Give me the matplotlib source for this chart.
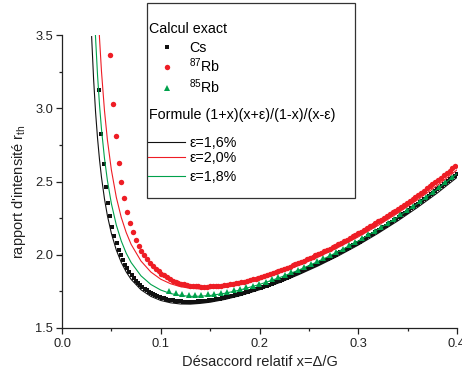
import numpy as np
import matplotlib
matplotlib.use('Agg')
import matplotlib.pyplot as plt
from matplotlib.lines import Line2D
from matplotlib.patches import Rectangle
from matplotlib.ticker import MultipleLocator, FormatStrFormatter

plt.rcParams['font.family'] = ['Liberation Sans', 'DejaVu Sans']
plt.rcParams['mathtext.fontset'] = 'custom'
plt.rcParams['mathtext.rm'] = 'Liberation Sans'
plt.rcParams['mathtext.it'] = 'Liberation Sans:italic'
plt.rcParams['mathtext.bf'] = 'Liberation Sans:bold'

# exact calculation, sampled on a regular detuning grid (x start, x step)
cs_x0, cs_dx = 0.0378, 0.00218
cs_y = [3.125, 2.822, 2.617, 2.465, 2.350, 2.264, 2.189, 2.125, 2.077, 2.034,
        1.997, 1.963, 1.933, 1.907, 1.883, 1.861, 1.842, 1.824, 1.808, 1.793,
        1.780, 1.768, 1.758, 1.748, 1.739, 1.731, 1.724, 1.717, 1.712, 1.706,
        1.702, 1.698, 1.694, 1.691, 1.688, 1.686, 1.684, 1.682, 1.681, 1.680,
        1.679, 1.679, 1.679, 1.679, 1.680, 1.680, 1.681, 1.682, 1.684, 1.685,
        1.687, 1.689, 1.691, 1.693, 1.695, 1.698, 1.701, 1.704, 1.707, 1.710,
        1.713, 1.716, 1.720, 1.723, 1.727, 1.731, 1.735, 1.739, 1.743, 1.747,
        1.751, 1.756, 1.760, 1.765, 1.770, 1.775, 1.780, 1.785, 1.790, 1.796,
        1.801, 1.807, 1.812, 1.818, 1.824, 1.830, 1.836, 1.842, 1.848, 1.855,
        1.861, 1.867, 1.874, 1.880, 1.887, 1.893, 1.900, 1.907, 1.914, 1.921,
        1.928, 1.935, 1.942, 1.949, 1.957, 1.964, 1.971, 1.979, 1.986, 1.994,
        2.001, 2.009, 2.017, 2.025, 2.033, 2.041, 2.049, 2.057, 2.065, 2.074,
        2.082, 2.090, 2.099, 2.108, 2.116, 2.125, 2.134, 2.143, 2.152, 2.161,
        2.170, 2.179, 2.189, 2.198, 2.207, 2.217, 2.226, 2.236, 2.246, 2.255,
        2.265, 2.275, 2.285, 2.295, 2.306, 2.316, 2.326, 2.337, 2.347, 2.358,
        2.368, 2.379, 2.390, 2.401, 2.412, 2.423, 2.434, 2.446, 2.457, 2.469,
        2.480, 2.492, 2.504, 2.515, 2.527, 2.539, 2.551]

rb87_x0, rb87_dx = 0.0486, 0.00289
rb87_y = [3.362, 3.029, 2.812, 2.627, 2.495, 2.385, 2.292, 2.219, 2.156, 2.101,
          2.062, 2.027, 1.997, 1.970, 1.945, 1.924, 1.905, 1.887, 1.872, 1.859,
          1.846, 1.834, 1.824, 1.815, 1.808, 1.803, 1.797, 1.793, 1.789, 1.787,
          1.785, 1.784, 1.783, 1.783, 1.783, 1.784, 1.785, 1.786, 1.788, 1.790,
          1.793, 1.796, 1.799, 1.802, 1.805, 1.809, 1.813, 1.817, 1.822, 1.827,
          1.832, 1.837, 1.843, 1.849, 1.855, 1.861, 1.868, 1.875, 1.882, 1.889,
          1.896, 1.904, 1.911, 1.919, 1.927, 1.935, 1.943, 1.952, 1.960, 1.969,
          1.977, 1.986, 1.995, 2.004, 2.014, 2.023, 2.033, 2.042, 2.052, 2.062,
          2.072, 2.082, 2.093, 2.103, 2.114, 2.125, 2.136, 2.147, 2.158, 2.170,
          2.181, 2.193, 2.204, 2.216, 2.228, 2.240, 2.252, 2.265, 2.277, 2.290,
          2.302, 2.315, 2.329, 2.342, 2.355, 2.369, 2.383, 2.397, 2.410, 2.424,
          2.438, 2.453, 2.467, 2.482, 2.497, 2.512, 2.527, 2.543, 2.558, 2.574,
          2.590, 2.606]

rb85_x0, rb85_dx = 0.1087, 0.0065
rb85_y = [1.751, 1.740, 1.732, 1.728, 1.726, 1.727, 1.730, 1.734, 1.741, 1.748,
          1.757, 1.767, 1.778, 1.790, 1.803, 1.817, 1.832, 1.848, 1.864, 1.881,
          1.899, 1.917, 1.937, 1.956, 1.977, 1.998, 2.020, 2.042, 2.066, 2.089,
          2.114, 2.139, 2.165, 2.191, 2.218, 2.246, 2.275, 2.304, 2.334, 2.364,
          2.396, 2.428, 2.461, 2.495, 2.529]

# approximate formula curves
f16_x = [0.030, 0.032, 0.034, 0.036, 0.038, 0.040, 0.043, 0.046, 0.050, 0.055,
         0.060, 0.065, 0.070, 0.080, 0.090, 0.100, 0.110, 0.120, 0.130, 0.140,
         0.150, 0.165, 0.180, 0.200, 0.220, 0.240, 0.260, 0.280, 0.300, 0.320,
         0.340, 0.360, 0.380, 0.400]
f16_y = [3.489, 3.198, 2.973, 2.794, 2.648, 2.528, 2.382, 2.266, 2.146, 2.032,
         1.948, 1.883, 1.832, 1.761, 1.716, 1.688, 1.672, 1.664, 1.663, 1.668,
         1.676, 1.695, 1.720, 1.761, 1.809, 1.865, 1.926, 1.993, 2.066, 2.146,
         2.231, 2.323, 2.421, 2.528]

f18_x = f16_x[1:]
f18_y = [3.808, 3.479, 3.224, 3.021, 2.856, 2.659, 2.506, 2.349, 2.203, 2.094,
         2.011, 1.947, 1.856, 1.797, 1.759, 1.735, 1.722, 1.716, 1.717, 1.722,
         1.737, 1.759, 1.797, 1.843, 1.896, 1.956, 2.022, 2.094, 2.173, 2.257,
         2.349, 2.447, 2.553]

f20_x = f16_x[3:]
f20_y = [3.761, 3.477, 3.250, 2.985, 2.783, 2.579, 2.392, 2.255, 2.152, 2.071,
         1.957, 1.882, 1.833, 1.802, 1.782, 1.771, 1.767, 1.769, 1.780, 1.799,
         1.833, 1.877, 1.928, 1.986, 2.051, 2.122, 2.200, 2.284, 2.375, 2.473,
         2.579]

BLACK = '#111111'
RED = '#ee1d25'
GREEN = '#00a14b'

W, H = 462, 376


def px(x, y):
    # pixel position (from top-left) -> figure fraction
    return x / W, 1 - y / H


fig = plt.figure(figsize=(W / 100, H / 100), dpi=100)
ax = fig.add_axes([62 / W, 48 / H, 395 / W, 293 / H])

cs_x = cs_x0 + cs_dx * np.arange(len(cs_y))
rb87_x = rb87_x0 + rb87_dx * np.arange(len(rb87_y))
rb85_x = rb85_x0 + rb85_dx * np.arange(len(rb85_y))

ax.plot(cs_x, cs_y, 's', color=BLACK, ms=3.0, mew=0, zorder=2)
ax.plot(rb87_x, rb87_y, 'o', color=RED, ms=3.9, mew=0, zorder=3)
ax.plot(rb85_x, rb85_y, '^', color=GREEN, ms=4.4, mew=0, zorder=4)

ax.plot(f16_x, f16_y, '-', color=BLACK, lw=0.8, zorder=5)
ax.plot(f20_x, f20_y, '-', color=RED, lw=0.8, zorder=5)
ax.plot(f18_x, f18_y, '-', color=GREEN, lw=0.8, zorder=5)

ax.set_xlim(0, 0.4)
ax.set_ylim(1.5, 3.5)
ax.xaxis.set_major_locator(MultipleLocator(0.1))
ax.xaxis.set_minor_locator(MultipleLocator(0.05))
ax.yaxis.set_major_locator(MultipleLocator(0.5))
ax.yaxis.set_minor_locator(MultipleLocator(0.25))
ax.xaxis.set_major_formatter(FormatStrFormatter('%.1f'))
ax.yaxis.set_major_formatter(FormatStrFormatter('%.1f'))
for s in ['top', 'right']:
    ax.spines[s].set_visible(False)
for s in ['left', 'bottom']:
    ax.spines[s].set_linewidth(0.9)
    ax.spines[s].set_color('#222222')
ax.tick_params(which='major', direction='out', length=4, width=0.9,
               colors='#222222', labelsize=9.3, pad=2.5)
ax.tick_params(which='minor', direction='out', length=2.4, width=0.9,
               colors='#222222')
ax.tick_params(axis='x', which='major', pad=3.5)

ax.set_xlabel('Désaccord relatif x=Δ/G', fontsize=10.5, color='#222222')
ax.xaxis.set_label_coords(0.501, -0.093)
ax.set_ylabel("rapport d'intensité r$_{\\mathrm{th}}$", fontsize=10.5,
              color='#222222')
ax.yaxis.set_label_coords(-0.086, 0.467)

# legend box, drawn by hand
x0, y0 = px(146.7, 198)
x1, y1 = px(355, 3.3)
fig.add_artist(Rectangle((x0, y0), x1 - x0, y1 - y0, fill=False,
                         edgecolor='#333333', lw=0.9,
                         transform=fig.transFigure))

fs = 10.3
fig.text(*px(149, 33), 'Calcul exact', fontsize=fs, va='baseline')
marks = [('s', BLACK, 3.0, 46.7, 'Cs'),
         ('o', RED, 3.9, 66.7, '$^{87}$Rb'),
         ('^', GREEN, 4.4, 88.0, '$^{85}$Rb')]
for m, c, ms, yy, lab in marks:
    mx, my = px(166.7, yy)
    fig.add_artist(Line2D([mx], [my], marker=m, color=c, ms=ms, mew=0,
                          ls='none', transform=fig.transFigure))
    fig.text(*px(189, yy + 5), lab, fontsize=fs, va='baseline')

fig.text(*px(149, 119.5), 'Formule (1+x)(x+ε)/(1-x)/(x-ε)', fontsize=fs,
         va='baseline')
lines = [(BLACK, 141.7, 'ε=1,6%'), (RED, 156.7, 'ε=2,0%'),
         (GREEN, 175.7, 'ε=1,8%')]
for c, yy, lab in lines:
    ax0, ay = px(148, yy)
    ax1, _ = px(185, yy)
    fig.add_artist(Line2D([ax0, ax1], [ay, ay], color=c, lw=0.8,
                          transform=fig.transFigure))
    fig.text(*px(189, yy + 5), lab, fontsize=fs, va='baseline')

fig.savefig('out.png', dpi=100)
